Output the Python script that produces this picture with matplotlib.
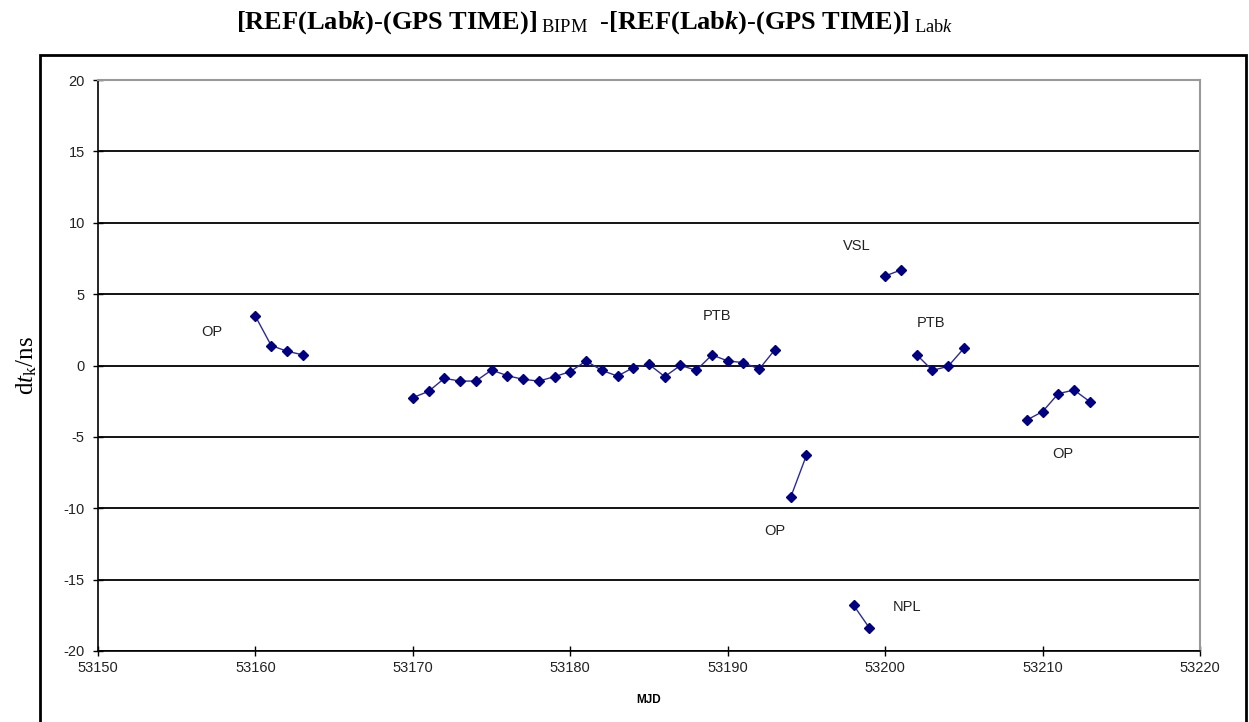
import matplotlib
matplotlib.use("Agg")
import matplotlib.pyplot as plt
from matplotlib.patches import Rectangle

plt.rcParams['font.family'] = ['Liberation Sans', 'DejaVu Sans']
plt.rcParams['axes.unicode_minus'] = False
plt.rcParams['mathtext.fontset'] = 'custom'
plt.rcParams['mathtext.rm'] = 'Liberation Serif'
plt.rcParams['mathtext.it'] = 'Liberation Serif:italic'
plt.rcParams['mathtext.bf'] = 'Liberation Serif:bold'
plt.rcParams['mathtext.bfit'] = 'Liberation Serif:italic:bold'

# groupes de points (MJD, dt en ns)
op1_mjd = [53160, 53161, 53162, 53163]
op1_dt = [3.45, 1.40, 1.00, 0.75]

ptb1_mjd = list(range(53170, 53194))
ptb1_dt = [-2.25, -1.81, -0.90, -1.09, -1.09, -0.32, -0.71, -0.97,
           -1.09, -0.78, -0.43, 0.32, -0.34, -0.74, -0.15, 0.08,
           -0.78, 0.01, -0.34, 0.74, 0.32, 0.20, -0.25, 1.11]

op2_mjd = [53194, 53195]
op2_dt = [-9.23, -6.29]

npl_mjd = [53198, 53199]
npl_dt = [-16.8, -18.39]

vsl_mjd = [53200, 53201]
vsl_dt = [6.27, 6.69]

ptb2_mjd = [53202, 53203, 53204, 53205]
ptb2_dt = [0.76, -0.34, -0.06, 1.20]

op3_mjd = [53209, 53210, 53211, 53212, 53213]
op3_dt = [-3.82, -3.23, -1.97, -1.72, -2.53]

groupes = [(op1_mjd, op1_dt), (ptb1_mjd, ptb1_dt), (op2_mjd, op2_dt),
           (npl_mjd, npl_dt), (vsl_mjd, vsl_dt), (ptb2_mjd, ptb2_dt),
           (op3_mjd, op3_dt)]

etiquettes = ["OP", "PTB", "OP", "NPL", "VSL", "PTB", "OP"]
etiq_x = [53157.2, 53189.3, 53193.0, 53201.4, 53198.2, 53202.9, 53211.3]
etiq_y = [2.35, 3.5, -11.6, -16.9, 8.37, 2.98, -6.2]

fig = plt.figure(figsize=(12.49, 7.22), dpi=100)
fig.patches.append(Rectangle((40 / 1249, -0.01), 1206 / 1249, (722 - 55) / 722 + 0.01,
                             transform=fig.transFigure, fill=False,
                             edgecolor='black', linewidth=2))

ax = fig.add_axes([98 / 1249, 71 / 722, 1102 / 1249, 571 / 722])

for mjd, dt in groupes:
    ax.plot(mjd, dt, color='#2a2a9a', linewidth=1, marker='D',
            markersize=5.5, markerfacecolor='#000080', markeredgecolor='#000080')

for lab, x, y in zip(etiquettes, etiq_x, etiq_y):
    ax.text(x, y, lab, fontsize=10.5, color='#222222', ha='center', va='center')

ax.set_xlim(53150, 53220)
ax.set_ylim(-20, 20)
ax.set_xticks(range(53150, 53221, 10))
ax.set_yticks(range(-20, 21, 5))
ax.yaxis.grid(True, color='black', linewidth=1.3)
ax.set_axisbelow(True)
ax.tick_params(direction='inout', length=7, width=1, labelsize=10.5,
               colors='black', labelcolor='#222222')
ax.tick_params(axis='y', pad=6)
for s in ['top', 'right']:
    ax.spines[s].set_color('#999999')
    ax.spines[s].set_linewidth(1.5)
for s in ['left', 'bottom']:
    ax.spines[s].set_linewidth(1.2)

ax.set_xlabel("MJD", fontsize=8.5, fontweight='bold', labelpad=14)
ax.set_ylabel(r"$\mathrm{d}t_{\mathrm{k}}\mathrm{/ns}$", fontsize=18, labelpad=18)

titre = (r"$\mathbf{[REF(Lab}\mathbfit{k}\mathbf{)\text{-}(GPS\ TIME)]}_{\mathrm{\ BIPM}}$"
         r"$\ \ \mathbf{\text{-}[REF(Lab}\mathbfit{k}\mathbf{)\text{-}(GPS\ TIME)]}_{\mathrm{\ Lab}\mathit{k}}$")
fig.text(595 / 1249, 1 - 23 / 722, titre, fontsize=19, ha='center', va='center')

fig.savefig("out.png", dpi=100)
